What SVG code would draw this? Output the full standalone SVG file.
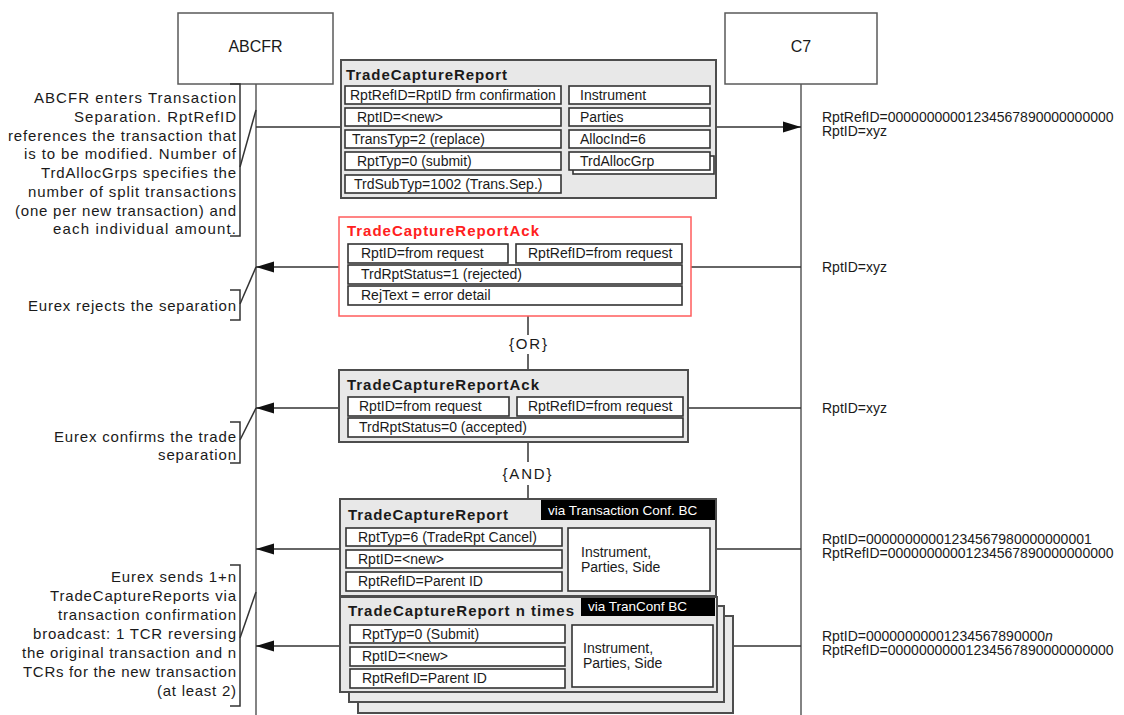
<svg xmlns="http://www.w3.org/2000/svg" width="1124" height="715" viewBox="0 0 1124 715">
<defs>
<marker id="ah" markerWidth="18" markerHeight="12" refX="18" refY="6" orient="auto" markerUnits="userSpaceOnUse"><path d="M0,0.5 L18,6 L0,11.5 z" fill="#111"/></marker>
<style>
text{font-family:"Liberation Sans",Arial,sans-serif;fill:#1a1a1a}
.life{stroke:#5a5a5a;stroke-width:1.5;fill:none}
.hdr{fill:#fff;stroke:#5a5a5a;stroke-width:1.5}
.hdrt{font-size:16px;text-anchor:middle}
.msg{fill:#e8e8e8;stroke:#4d4d4d;stroke-width:2}
.ackr{fill:#fff;stroke:#ff5c5c;stroke-width:1.5}
.fld{fill:#fff;stroke:#333;stroke-width:1.6}
.ttl{font-weight:bold;font-size:15px}
.red{fill:#ff2020}
.ft{font-size:14px}
.via{fill:#000}
.vt{fill:#fff;font-size:13.5px}
.ann{font-size:15px;text-anchor:end}
.lbl{font-size:14px}
.op{font-size:15px;text-anchor:middle}
.conn{stroke:#333;stroke-width:1.5;fill:none}
.br{stroke:#333;stroke-width:1.5;fill:none}
</style>
</defs>
<rect width="1124" height="715" fill="#fff"/>

<g id="lifelines">
<line class="life" x1="256" y1="84" x2="256" y2="715"/>
<line class="life" x1="801" y1="84" x2="801" y2="715"/>
</g>

<g id="connectors">
<line class="conn" x1="256" y1="127" x2="341" y2="127"/>
<line class="conn" x1="716" y1="127" x2="801" y2="127" marker-end="url(#ah)"/>
<line class="conn" x1="339" y1="267" x2="256" y2="267" marker-end="url(#ah)"/>
<line class="conn" x1="691" y1="267" x2="801" y2="267"/>
<line class="conn" x1="339" y1="408" x2="256" y2="408" marker-end="url(#ah)"/>
<line class="conn" x1="688" y1="408" x2="801" y2="408"/>
<line class="conn" x1="340" y1="549" x2="256" y2="549" marker-end="url(#ah)"/>
<line class="conn" x1="716" y1="549" x2="801" y2="549"/>
<line class="conn" x1="340" y1="646" x2="256" y2="646" marker-end="url(#ah)"/>
<line class="conn" x1="717" y1="646" x2="801" y2="646"/>
<line class="conn" x1="528" y1="316" x2="528" y2="335"/>
<line class="conn" x1="528" y1="354" x2="528" y2="370"/>
<line class="conn" x1="528" y1="442" x2="528" y2="462"/>
<line class="conn" x1="528" y1="485" x2="528" y2="499"/>
<line class="br" x1="240" y1="167" x2="256" y2="110"/>
<line class="br" x1="240" y1="304" x2="256" y2="267"/>
<line class="br" x1="240" y1="440" x2="256" y2="408"/>
<line class="br" x1="240" y1="638" x2="256" y2="592"/>
</g>

<g id="hdr-abcfr">
<rect class="hdr" x="178" y="13" width="155" height="71"/>
<text class="hdrt" x="255.5" y="52">ABCFR</text>
</g>
<g id="hdr-c7">
<rect class="hdr" x="725" y="13" width="152" height="71"/>
<text class="hdrt" x="801" y="52">C7</text>
</g>

<g id="note1">
<path class="br" d="M230,84 H240 V236 H230"/>
<text class="ann" x="236" y="103" textLength="202" lengthAdjust="spacing">ABCFR enters Transaction</text>
<text class="ann" x="236" y="122" textLength="162" lengthAdjust="spacing">Separation. RptRefID</text>
<text class="ann" x="236" y="141" textLength="228" lengthAdjust="spacing">references the transaction that</text>
<text class="ann" x="236" y="159" textLength="212" lengthAdjust="spacing">is to be modified. Number of</text>
<text class="ann" x="236" y="178" textLength="195" lengthAdjust="spacing">TrdAllocGrps specifies the</text>
<text class="ann" x="236" y="197" textLength="208" lengthAdjust="spacing">number of split transactions</text>
<text class="ann" x="236" y="216" textLength="221" lengthAdjust="spacing">(one per new transaction) and</text>
<text class="ann" x="236" y="234" textLength="183" lengthAdjust="spacing">each individual amount.</text>
</g>

<g id="note2">
<path class="br" d="M230,290 H240 V320 H230"/>
<text class="ann" x="236" y="311" textLength="208" lengthAdjust="spacing">Eurex rejects the separation</text>
</g>

<g id="note3">
<path class="br" d="M230,422 H240 V463 H230"/>
<text class="ann" x="236" y="442" textLength="182" lengthAdjust="spacing">Eurex confirms the trade</text>
<text class="ann" x="236" y="460" textLength="78" lengthAdjust="spacing">separation</text>
</g>

<g id="note4">
<path class="br" d="M230,565 H240 V706 H230"/>
<text class="ann" x="236" y="582" textLength="125" lengthAdjust="spacing">Eurex sends 1+n</text>
<text class="ann" x="236" y="601" textLength="186" lengthAdjust="spacing">TradeCaptureReports via</text>
<text class="ann" x="236" y="620" textLength="178" lengthAdjust="spacing">transaction confirmation</text>
<text class="ann" x="236" y="639" textLength="203" lengthAdjust="spacing">broadcast: 1 TCR reversing</text>
<text class="ann" x="236" y="658" textLength="214" lengthAdjust="spacing">the original transaction and n</text>
<text class="ann" x="236" y="677" textLength="213" lengthAdjust="spacing">TCRs for the new transaction</text>
<text class="ann" x="236" y="696" textLength="79" lengthAdjust="spacing">(at least 2)</text>
</g>

<g id="msg-tcr-request">
<rect class="msg" x="341" y="60" width="375" height="138"/>
<text class="ttl" x="346" y="80" textLength="161" lengthAdjust="spacing">TradeCaptureReport</text>
<rect class="fld" x="345" y="86" width="216" height="18"/>
<text class="ft" x="350" y="100">RptRefID=RptID frm confirmation</text>
<rect class="fld" x="345" y="108" width="216" height="18"/>
<text class="ft" x="357" y="122">RptID=&lt;new&gt;</text>
<rect class="fld" x="345" y="130" width="216" height="18"/>
<text class="ft" x="352" y="144">TransTyp=2 (replace)</text>
<rect class="fld" x="345" y="152" width="216" height="18"/>
<text class="ft" x="357" y="166">RptTyp=0 (submit)</text>
<rect class="fld" x="345" y="175" width="216" height="18"/>
<text class="ft" x="354" y="189">TrdSubTyp=1002 (Trans.Sep.)</text>
<rect class="fld" x="569" y="86" width="141" height="18"/>
<text class="ft" x="580" y="100">Instrument</text>
<rect class="fld" x="569" y="108" width="141" height="18"/>
<text class="ft" x="580" y="122">Parties</text>
<rect class="fld" x="569" y="130" width="141" height="18"/>
<text class="ft" x="580" y="144">AllocInd=6</text>
<rect class="fld" x="573" y="156" width="141" height="18"/>
<rect class="fld" x="569" y="152" width="141" height="18"/>
<text class="ft" x="580" y="166">TrdAllocGrp</text>
</g>

<g id="msg-ack-rejected">
<rect class="ackr" x="339" y="217" width="352" height="99"/>
<text class="ttl red" x="347" y="236" textLength="192" lengthAdjust="spacing">TradeCaptureReportAck</text>
<rect class="fld" x="348" y="244" width="160" height="19"/>
<text class="ft" x="361" y="258">RptID=from request</text>
<rect class="fld" x="516" y="244" width="166" height="19"/>
<text class="ft" x="528" y="258">RptRefID=from request</text>
<rect class="fld" x="348" y="265" width="334" height="19"/>
<text class="ft" x="361" y="279">TrdRptStatus=1 (rejected)</text>
<rect class="fld" x="348" y="286" width="334" height="19"/>
<text class="ft" x="361" y="300">RejText = error detail</text>
</g>

<g id="op-or">
<text class="op" x="528" y="349" textLength="38" lengthAdjust="spacing">{OR}</text>
</g>

<g id="msg-ack-accepted">
<rect class="msg" x="339" y="370" width="349" height="72"/>
<text class="ttl" x="347" y="390" textLength="192" lengthAdjust="spacing">TradeCaptureReportAck</text>
<rect class="fld" x="348" y="397" width="161" height="19"/>
<text class="ft" x="359" y="411">RptID=from request</text>
<rect class="fld" x="517" y="397" width="166" height="19"/>
<text class="ft" x="528" y="411">RptRefID=from request</text>
<rect class="fld" x="348" y="418" width="335" height="19"/>
<text class="ft" x="359" y="432">TrdRptStatus=0 (accepted)</text>
</g>

<g id="op-and">
<text class="op" x="527" y="479" textLength="49" lengthAdjust="spacing">{AND}</text>
</g>

<g id="msg-tcr-cancel">
<rect class="msg" x="340" y="499" width="376" height="97"/>
<rect class="via" x="541" y="500" width="174" height="20"/>
<text class="vt" x="548" y="515">via Transaction Conf. BC</text>
<text class="ttl" x="348" y="520" textLength="160" lengthAdjust="spacing">TradeCaptureReport</text>
<rect class="fld" x="346" y="528" width="216" height="18"/>
<text class="ft" x="358" y="542">RptTyp=6 (TradeRpt Cancel)</text>
<rect class="fld" x="346" y="550" width="216" height="18"/>
<text class="ft" x="358" y="564">RptID=&lt;new&gt;</text>
<rect class="fld" x="346" y="572" width="216" height="19"/>
<text class="ft" x="358" y="586">RptRefID=Parent ID</text>
<rect class="fld" x="568" y="528" width="142" height="63"/>
<text class="ft" x="581" y="557">Instrument,</text>
<text class="ft" x="581" y="572">Parties, Side</text>
</g>

<g id="msg-tcr-n-times">
<rect class="msg" x="358" y="616" width="375" height="97"/>
<rect class="msg" x="349" y="606" width="375" height="96"/>
<rect class="msg" x="340" y="597" width="377" height="95"/>
<rect class="via" x="581" y="598" width="134" height="18"/>
<text class="vt" x="588" y="611">via TranConf BC</text>
<text class="ttl" x="348" y="616" textLength="226" lengthAdjust="spacing">TradeCaptureReport n times</text>
<rect class="fld" x="350" y="625" width="215" height="18"/>
<text class="ft" x="362" y="639">RptTyp=0 (Submit)</text>
<rect class="fld" x="350" y="647" width="215" height="19"/>
<text class="ft" x="362" y="661">RptID=&lt;new&gt;</text>
<rect class="fld" x="350" y="669" width="215" height="19"/>
<text class="ft" x="362" y="683">RptRefID=Parent ID</text>
<rect class="fld" x="572" y="625" width="141" height="62"/>
<text class="ft" x="583" y="653">Instrument,</text>
<text class="ft" x="583" y="668">Parties, Side</text>
</g>

<g id="labels-c7">
<text class="lbl" x="822" y="122">RptRefID=00000000001234567890000000000</text>
<text class="lbl" x="822" y="136">RptID=xyz</text>
<text class="lbl" x="822" y="272">RptID=xyz</text>
<text class="lbl" x="822" y="413">RptID=xyz</text>
<text class="lbl" x="822" y="544">RptID=00000000001234567980000000001</text>
<text class="lbl" x="822" y="558">RptRefID=00000000001234567890000000000</text>
<text class="lbl" x="822" y="641">RptID=00000000001234567890000<tspan font-style="italic">n</tspan></text>
<text class="lbl" x="822" y="655">RptRefID=00000000001234567890000000000</text>
</g>
</svg>
